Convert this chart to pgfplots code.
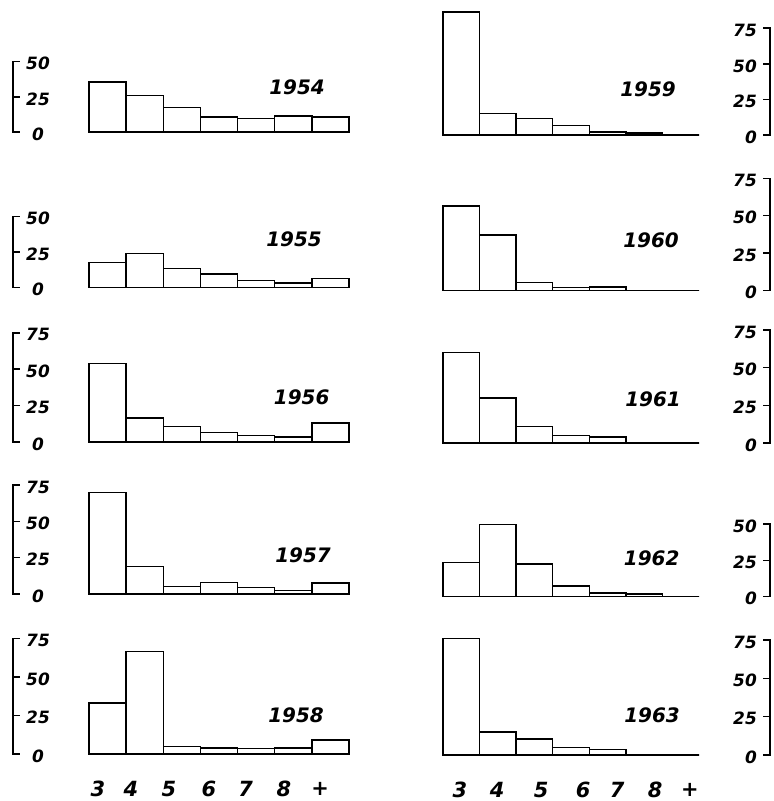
\documentclass[border=0pt]{standalone}
\usepackage{fontspec}
\setmainfont{DejaVu Sans}
\usepackage{pgfplots}
\pgfplotsset{compat=1.18}

\newcommand\ticfont{\bfseries\itshape\fontsize{17}{17}\selectfont}
\newcommand\yearfont{\bfseries\itshape\fontsize{20}{20}\selectfont}
\newcommand\catfont{\bfseries\itshape\fontsize{21}{21}\selectfont}

\pgfplotsset{
  panel/.style={
    scale only axis, clip=false, enlargelimits=false,
    ymin=0, anchor=south west,
    ybar, bar width=1, bar shift=0pt,
    axis x line*=bottom, x axis line style={draw=none},
    xtick=\empty,
    tick align=inside, major tick length=6bp,
    major tick style={line width=1.6bp, black, line cap=rect},
    axis line style={line width=1.6bp, line cap=rect, -},
    /pgf/number format/assume math mode=true,
    ticklabel style={font=\ticfont},
  },
  leftpanel/.style={panel, width=336bp, xmin=-2.546, xmax=6.5,
    axis y line*=left,
    yticklabel style={anchor=center, xshift=25bp, yshift=-2bp}},
  rightpanel/.style={panel, width=327bp, xmin=-0.5, xmax=8.44,
    axis y line*=right,
    yticklabel style={anchor=east, inner sep=0pt, xshift=-13bp, yshift=-2bp}},
  catlabels/.style={xtick={#1}, xticklabels={3,4,5,6,7,8,+},
    every x tick/.append style={draw=none},
    xticklabel style={font=\catfont, anchor=center, inner sep=0pt, yshift=-35bp}},
  histo/.style={fill=white, draw=black, line width=1.5bp},
}

\begin{document}
\begin{tikzpicture}
\path[use as bounding box] (0bp,0bp) rectangle (774bp,801bp);

% left column: 1954 - 1958
\begin{axis}[leftpanel, at={(13bp,669bp)}, height=70.3bp, ymax=50, ytick={0,25,50}]
  \addplot[histo] coordinates {(0,35.5) (1,26) (2,17.5) (3,10.5) (4,9.5) (5,11.5) (6,10.5)};
\end{axis}
\begin{axis}[leftpanel, at={(13bp,513.5bp)}, height=70.8bp, ymax=50, ytick={0,25,50}]
  \addplot[histo] coordinates {(0,17.5) (1,24) (2,13.5) (3,9.5) (4,5) (5,3) (6,6.5)};
\end{axis}
\begin{axis}[leftpanel, at={(13bp,359bp)}, height=109.3bp, ymax=75, ytick={0,25,50,75}]
  \addplot[histo] coordinates {(0,54) (1,16.5) (2,10.5) (3,6.5) (4,4.5) (5,3.5) (6,13)};
\end{axis}
\begin{axis}[leftpanel, at={(13bp,207bp)}, height=109bp, ymax=75, ytick={0,25,50,75}]
  \addplot[histo] coordinates {(0,70) (1,19) (2,5) (3,8) (4,4.5) (5,2.5) (6,7.5)};
\end{axis}
\begin{axis}[leftpanel, at={(13bp,47bp)}, height=115.7bp, ymax=75, ytick={0,25,50,75},
    catlabels={-0.26,0.63,1.65,2.73,3.72,4.75,5.72}]
  \addplot[histo] coordinates {(0,33) (1,66.5) (2,5) (3,4) (4,3.5) (5,4) (6,9)};
\end{axis}

% right column: 1959 - 1963
\begin{axis}[rightpanel, at={(443bp,666bp)}, height=106.7bp, ymax=75, ytick={0,25,50,75}]
  \addplot[histo] coordinates {(0,86.5) (1,15) (2,11.5) (3,6.5) (4,2) (5,1.5) (6,0)};
\end{axis}
\begin{axis}[rightpanel, at={(443bp,510.5bp)}, height=112.2bp, ymax=75, ytick={0,25,50,75}]
  \addplot[histo] coordinates {(0,56.5) (1,37) (2,5.5) (3,2) (4,2.5) (5,0) (6,0)};
\end{axis}
\begin{axis}[rightpanel, at={(443bp,358bp)}, height=113bp, ymax=75, ytick={0,25,50,75}]
  \addplot[histo] coordinates {(0,60) (1,30) (2,11) (3,5) (4,4) (5,0) (6,0)};
\end{axis}
\begin{axis}[rightpanel, at={(443bp,204.3bp)}, height=72.7bp, ymax=50, ytick={0,25,50}]
  \addplot[histo] coordinates {(0,23.5) (1,49.5) (2,22.5) (3,7.5) (4,2.5) (5,2) (6,0)};
\end{axis}
\begin{axis}[rightpanel, at={(443bp,46bp)}, height=115bp, ymax=75, ytick={0,25,50,75},
    catlabels={-0.04,0.98,2.18,3.33,4.26,5.3,6.25}]
  \addplot[histo] coordinates {(0,76) (1,15) (2,10.5) (3,5) (4,3.5) (5,0) (6,0)};
\end{axis}

% year labels
\begin{scope}[every node/.style={font=\yearfont}]
  \node at (297bp,713.5bp) {1954};
  \node at (294bp,562bp)   {1955};
  \node at (301.7bp,403.5bp) {1956};
  \node at (303bp,245.5bp) {1957};
  \node at (296bp,86bp)    {1958};
  \node at (648bp,711.3bp) {1959};
  \node at (651bp,561bp)   {1960};
  \node at (653bp,402bp)   {1961};
  \node at (651.7bp,243bp) {1962};
  \node at (652bp,85.5bp)  {1963};
\end{scope}
\end{tikzpicture}
\end{document}
